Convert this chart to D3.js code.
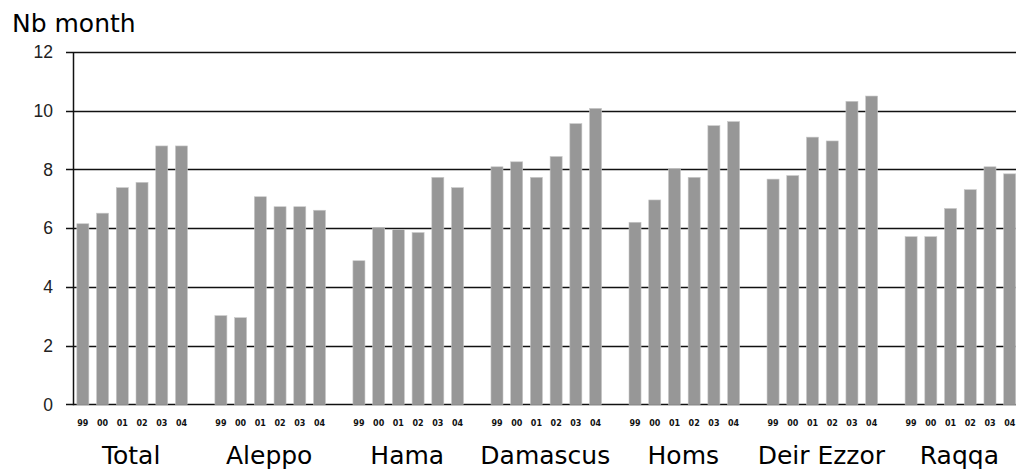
<!DOCTYPE html>
<html>
<head>
<meta charset="utf-8">
<script src="https://cdn.jsdelivr.net/npm/d3@7"></script>
<style>
  body { margin: 0; background: #fff; }
  svg { display: block; }
</style>
</head>
<body>
<div id="chart"></div>
<script>
// data
var groups = ['Total', 'Aleppo', 'Hama', 'Damascus', 'Homs', 'Deir Ezzor', 'Raqqa']
var years = ['99', '00', '01', '02', '03', '04']
var total     = [6.15, 6.51, 7.38, 7.56, 8.80, 8.80]
var aleppo    = [3.02, 2.95, 7.07, 6.73, 6.73, 6.61]
var hama      = [4.89, 6.03, 5.96, 5.85, 7.73, 7.38]
var damascus  = [8.09, 8.26, 7.73, 8.44, 9.56, 10.08]
var homs      = [6.20, 6.96, 8.03, 7.73, 9.49, 9.63]
var deirEzzor = [7.67, 7.79, 9.10, 8.97, 10.32, 10.50]
var raqqa     = [5.71, 5.71, 6.67, 7.31, 8.09, 7.85]
var yTicks = [0, 2, 4, 6, 8, 10, 12]

var series = [total, aleppo, hama, damascus, homs, deirEzzor, raqqa]

var width = 1016, height = 475
var plotLeft = 73, plotTop = 52, plotBottom = 404.3
var step = 19.72

var svg = d3.select('#chart').append('svg')
  .attr('width', width)
  .attr('height', height)

// each group = 6 bars + one empty slot
var x0 = d3.scaleBand()
  .domain(groups)
  .range([plotLeft, plotLeft + groups.length * 7 * step])

var x1 = d3.scaleBand()
  .domain(years)
  .range([0, years.length * step])
  .paddingInner(0.39)
  .paddingOuter(0.195)

var y = d3.scaleLinear()
  .domain([0, 12])
  .range([plotBottom, plotTop])

// gridlines
svg.append('g')
  .selectAll('line')
  .data(yTicks)
  .enter().append('line')
    .attr('x1', plotLeft - 7)
    .attr('x2', width)
    .attr('y1', function (d) { return Math.round(y(d)) + 0.5 })
    .attr('y2', function (d) { return Math.round(y(d)) + 0.5 })
    .attr('stroke', '#111')
    .attr('stroke-width', 1.3)

// bars
var rows = []
groups.forEach(function (g, i) {
  years.forEach(function (yr, j) {
    rows.push({ group: g, year: yr, value: series[i][j] })
  })
})

svg.append('g')
  .selectAll('rect')
  .data(rows)
  .enter().append('rect')
    .attr('x', function (d) { return x0(d.group) + x1(d.year) })
    .attr('y', function (d) { return y(d.value) })
    .attr('width', x1.bandwidth())
    .attr('height', function (d) { return y(0) - y(d.value) })
    .attr('fill', '#979797')
    .attr('stroke', '#c8c8c8')
    .attr('stroke-width', 0.6)

// y axis line
svg.append('line')
  .attr('x1', plotLeft + 0.5).attr('x2', plotLeft + 0.5)
  .attr('y1', y(12)).attr('y2', y(0) + 1)
  .attr('stroke', '#111')
  .attr('stroke-width', 1.5)

// y tick labels
svg.append('g')
  .selectAll('text')
  .data(yTicks)
  .enter().append('text')
    .attr('x', 53)
    .attr('y', function (d) { return y(d) })
    .attr('dy', '0.36em')
    .attr('text-anchor', 'end')
    .attr('font-family', 'Liberation Sans, Arial, sans-serif')
    .attr('font-size', 17.5)
    .attr('fill', '#222')
    .text(function (d) { return d })

// year labels under bars
svg.append('g')
  .selectAll('text')
  .data(rows)
  .enter().append('text')
    .attr('x', function (d) { return x0(d.group) + x1(d.year) + x1.bandwidth() / 2 })
    .attr('y', 423)
    .attr('dy', '0.35em')
    .attr('text-anchor', 'middle')
    .attr('font-family', 'DejaVu Sans, sans-serif')
    .attr('font-size', 8)
    .attr('font-weight', 'bold')
    .attr('fill', '#111')
    .text(function (d) { return d.year })

// group labels
svg.append('g')
  .selectAll('text')
  .data(groups)
  .enter().append('text')
    .attr('x', function (g) { return x0(g) + x1.range()[1] / 2 - 1 })
    .attr('y', 464)
    .attr('text-anchor', 'middle')
    .attr('font-family', 'DejaVu Sans, sans-serif')
    .attr('font-size', 25)
    .attr('fill', '#000')
    .text(function (g) { return g })

// axis title
svg.append('text')
  .attr('x', 12)
  .attr('y', 32)
  .attr('font-family', 'DejaVu Sans, sans-serif')
  .attr('font-size', 25)
  .attr('fill', '#000')
  .text('Nb month')
</script>
</body>
</html>
